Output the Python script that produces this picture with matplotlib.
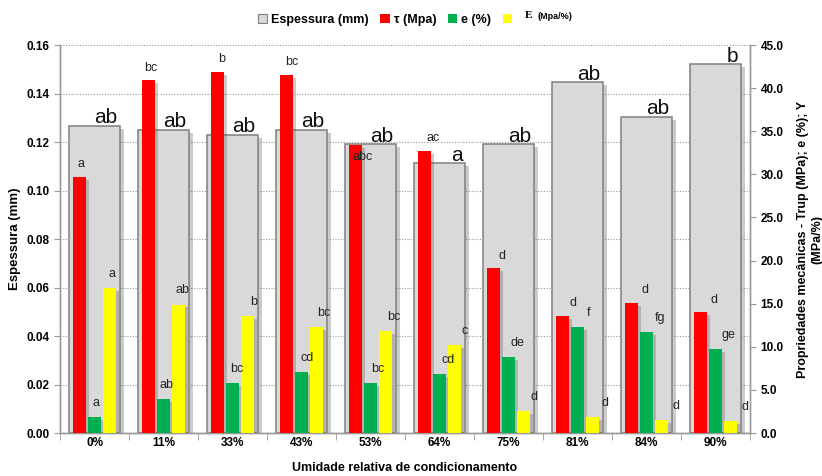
import matplotlib

matplotlib.use("Agg")
import matplotlib.pyplot as plt
import matplotlib.patheffects as pe
from matplotlib.patches import Patch
import numpy as np

plt.rcParams["font.family"] = ["Liberation Sans", "DejaVu Sans"]

# ---- data ----
umidade = ["0%", "11%", "33%", "43%", "53%", "64%", "75%", "81%", "84%", "90%"]
espessura = [0.1266, 0.1249, 0.1229, 0.1250, 0.1190, 0.1112, 0.1190, 0.1446, 0.1303, 0.1520]
trup = [29.7, 40.9, 41.9, 41.5, 33.4, 32.7, 19.1, 13.6, 15.1, 14.0]
alongamento = [1.8, 3.9, 5.8, 7.1, 5.8, 6.8, 8.8, 12.3, 11.7, 9.7]
young = [16.8, 14.9, 13.6, 12.3, 11.8, 10.2, 2.55, 1.86, 1.47, 1.35]

esp_letters = ["ab", "ab", "ab", "ab", "ab", "a", "ab", "ab", "ab", "b"]
trup_letters = ["a", "bc", "b", "bc", "abc", "ac", "d", "d", "d", "d"]
e_letters = ["a", "ab", "bc", "cd", "bc", "cd", "de", "f", "fg", "ge"]
y_letters = ["a", "ab", "b", "bc", "bc", "c", "d", "d", "d", "d"]

GRAY = "#d9d9d9"
RED = "#ff0000"
GREEN = "#00b050"
YELLOW = "#ffff00"
SPINE = "#9a9a9a"

shadow = [pe.SimplePatchShadow(offset=(2.5, -2), shadow_rgbFace="#555555", alpha=0.3), pe.Normal()]

fig = plt.figure(figsize=(8.22, 4.76), dpi=100)
ax = fig.add_axes([0.073, 0.0903, 0.8394, 0.8151])
ax2 = ax.twinx()

x = np.arange(len(umidade))

# thickness bars on the left axis
ax.bar(x, espessura, width=0.75, color=GRAY, edgecolor="#7f7f7f", linewidth=1.1,
       path_effects=shadow, zorder=2)
ax.set_xlim(-0.5, len(umidade) - 0.5)
ax.set_ylim(0, 0.16)
ax.set_yticks(np.arange(0, 0.161, 0.02))
ax.yaxis.set_major_formatter(matplotlib.ticker.FormatStrFormatter("%.2f"))
ax.grid(axis="y", linestyle=(0, (1, 1.5)), color="#9a9a9a", linewidth=0.8)
ax.set_axisbelow(True)
ax.set_xticks(x)
ax.set_xticklabels(umidade, fontweight="bold", fontsize=8.5)
ax.set_xticks(np.arange(-0.5, len(umidade), 1), minor=True)
ax.tick_params(axis="x", which="major", length=0, pad=3)
ax.tick_params(axis="x", which="minor", length=5, color=SPINE)
ax.tick_params(axis="y", length=4, color=SPINE, labelsize=8.5)
for lab in ax.get_yticklabels():
    lab.set_fontweight("bold")
ax.set_ylabel("Espessura (mm)", fontweight="bold", fontsize=9.5, labelpad=4)
ax.set_xlabel("Umidade relativa de condicionamento", fontweight="bold", fontsize=9, labelpad=9)

# mechanical properties on the right axis
w = 0.18
ax2.bar(x - 0.22, trup, width=w, color=RED, path_effects=shadow, zorder=3)
ax2.bar(x, alongamento, width=w, color=GREEN, path_effects=shadow, zorder=3)
ax2.bar(x + 0.22, young, width=w, color=YELLOW, path_effects=shadow, zorder=3)
ax2.set_ylim(0, 45)
ax2.set_yticks(np.arange(0, 45.1, 5))
ax2.yaxis.set_major_formatter(matplotlib.ticker.FormatStrFormatter("%.1f"))
ax2.tick_params(axis="y", length=4, color=SPINE, labelsize=8.5)
for lab in ax2.get_yticklabels():
    lab.set_fontweight("bold")
ax2.set_ylabel("Propriedades mecânicas - Trup (MPa); e (%); Y\n(MPa/%)",
               fontweight="bold", fontsize=9, labelpad=10)

for a in (ax, ax2):
    a.spines["top"].set_visible(False)
    for s in ("left", "right", "bottom"):
        a.spines[s].set_color(SPINE)
        a.spines[s].set_linewidth(1.0)

# significance letters
for i in range(len(umidade)):
    ax.annotate(esp_letters[i], (x[i] + 0.375, espessura[i]), xytext=(-2, 2),
                textcoords="offset points", ha="right", va="baseline",
                fontsize=15, color="#111111", zorder=5)
    dx = [1, 2, 3, 4, 5, 6.5, 6.5, 8, 9.5, 9.5][i]
    dy_red = -11 if trup_letters[i] == "abc" else 7
    ax2.annotate(trup_letters[i], (x[i] - 0.22, trup[i]), xytext=(dx, dy_red),
                 textcoords="offset points", ha="center", va="baseline",
                 fontsize=9, color="#222222", zorder=6)
    ax2.annotate(e_letters[i], (x[i], alongamento[i]), xytext=(dx, 8),
                 textcoords="offset points", ha="center", va="baseline",
                 fontsize=9, color="#222222", zorder=6)
    ax2.annotate(y_letters[i], (x[i] + 0.22, young[i]), xytext=(dx + 1, 8),
                 textcoords="offset points", ha="center", va="baseline",
                 fontsize=9, color="#222222", zorder=6)

# legend
handles = [
    Patch(facecolor=GRAY, edgecolor="#7f7f7f", linewidth=0.8),
    Patch(facecolor=RED),
    Patch(facecolor=GREEN),
    Patch(facecolor=YELLOW),
]
labels = ["Espessura (mm)", "τ (Mpa)", "e (%)", ""]
fig.legend(handles, labels, loc="center left", bbox_to_anchor=(0.306, 0.958), ncol=4,
           frameon=False, borderpad=0, handlelength=0.75, handleheight=0.75,
           handletextpad=0.3, columnspacing=0.95, prop={"weight": "bold", "size": 9})
fig.text(0.638, 0.968, "E", fontsize=8, fontweight="bold", family="Liberation Serif",
         ha="left", va="center")
fig.text(0.654, 0.966, "(Mpa/%)", fontsize=6.5, fontweight="bold", ha="left", va="center")

fig.savefig("out.png", dpi=100)
